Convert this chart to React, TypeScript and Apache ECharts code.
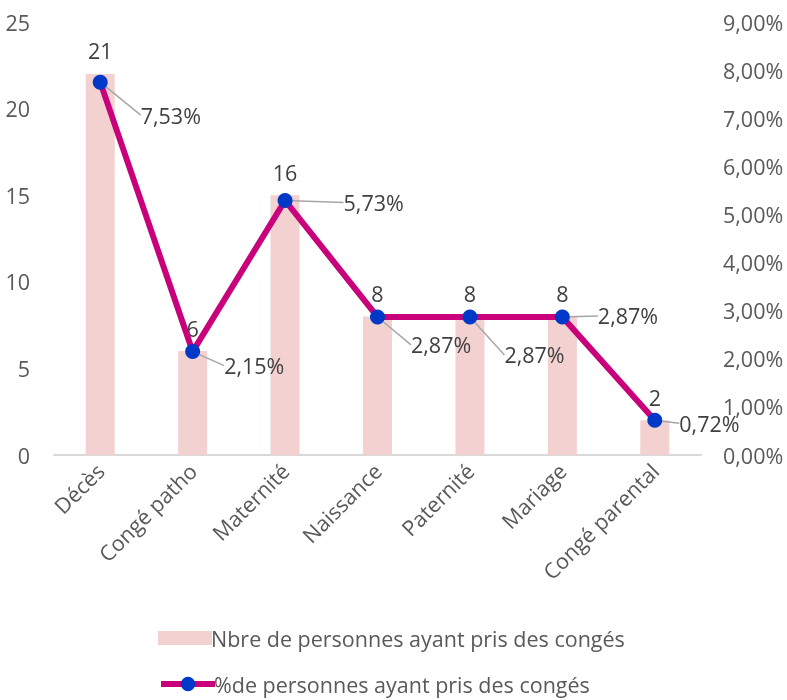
import React, { useEffect, useRef } from "react";
import * as echarts from "echarts";

const categories = ["Décès", "Congé patho", "Maternité", "Naissance", "Paternité", "Mariage", "Congé parental"];
const barValues = [22, 6, 15, 8, 8, 8, 2];
const barLabels = ["21", "6", "16", "8", "8", "8", "2"];
const lineValues = [7.75, 2.15, 5.29, 2.87, 2.87, 2.87, 0.72];
const lineLabels = ["7,53%", "2,15%", "5,73%", "2,87%", "2,87%", "2,87%", "0,72%"];
const lineLabelOffsets = [
  [33, 33],
  [24, 14],
  [51, 2],
  [26, 28],
  [27, 38],
  [28, -1],
  [17, 3],
];
const leftTicks = { min: 0, max: 25, interval: 5 };
const rightTicks = { min: 0, max: 9, interval: 1 };
const barName = "Nbre de personnes ayant pris des congés";
const lineName = "%de personnes ayant pris des congés";

const FONT = "'Open Sans', 'Noto Sans', sans-serif";
const FS = 21.5;

export default function App() {
  const ref = useRef<HTMLDivElement>(null);
  useEffect(() => {
    if (!ref.current) return;
    const chart = echarts.init(ref.current, undefined, { renderer: "svg" });
    const legendBase = {
      orient: "horizontal",
      left: 158,
      padding: 0,
      itemWidth: 54,
      itemHeight: 14,
      textStyle: { fontSize: FS, color: "#595959", fontFamily: FONT, padding: [0, 0, 0, -6] },
    };
    chart.setOption({
      animation: false,
      textStyle: { fontFamily: FONT },
      grid: { left: 54, right: 86, top: 22, bottom: 245 },
      legend: [
        { ...legendBase, top: 627, data: [{ name: barName, icon: "rect" }] },
        { ...legendBase, top: 673, itemHeight: 18, data: [{ name: lineName, lineStyle: { width: 6 } }] },
      ],
      xAxis: {
        type: "category",
        data: categories,
        axisLine: { lineStyle: { color: "#d9d9d9", width: 2 } },
        axisTick: { show: false },
        axisLabel: { rotate: 45, fontSize: FS, color: "#595959", margin: 12, interval: 0 },
      },
      yAxis: [
        {
          type: "value",
          ...leftTicks,
          splitLine: { show: false },
          axisLine: { show: false },
          axisLabel: { fontSize: FS, color: "#595959", margin: 24 },
        },
        {
          type: "value",
          ...rightTicks,
          splitLine: { show: false },
          axisLine: { show: false },
          axisLabel: {
            fontSize: FS,
            color: "#595959",
            margin: 22,
            formatter: (v: number) => v.toFixed(2).replace(".", ",") + "%",
          },
        },
      ],
      series: [
        {
          name: barName,
          type: "bar",
          data: barValues,
          barWidth: 29,
          itemStyle: { color: "#f4d1d1" },
          label: {
            show: true,
            position: "top",
            distance: 12,
            fontSize: FS,
            color: "#404040",
            formatter: (p: any) => barLabels[p.dataIndex],
          },
          z: 1,
        },
        {
          name: lineName,
          type: "line",
          yAxisIndex: 1,
          data: lineValues,
          symbol: "circle",
          symbolSize: 15,
          lineStyle: { color: "#c8007b", width: 6 },
          itemStyle: { color: "#0039c8" },
          label: {
            show: true,
            position: "right",
            distance: 0,
            fontSize: FS,
            color: "#404040",
            formatter: (p: any) => lineLabels[p.dataIndex],
          },
          labelLine: { show: true, lineStyle: { color: "#a6a6a6", width: 1.5 } },
          labelLayout: (p: any) => ({
            dx: lineLabelOffsets[p.dataIndex][0],
            dy: lineLabelOffsets[p.dataIndex][1],
          }),
          z: 3,
        },
      ],
    });
    return () => chart.dispose();
  }, []);
  return <div ref={ref} style={{ position: "fixed", left: 0, top: 0, width: 787, height: 700 }} />;
}
